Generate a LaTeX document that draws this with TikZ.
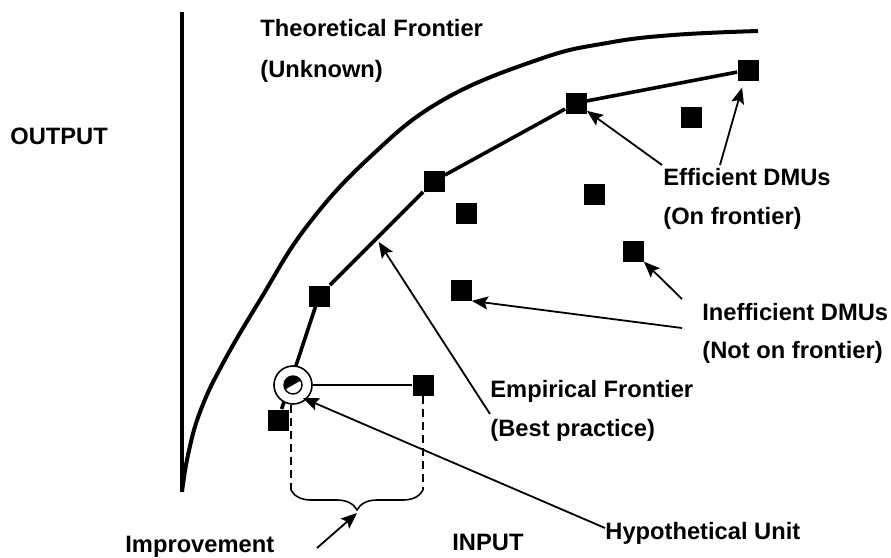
\documentclass[tikz,border=0pt]{standalone}
\usepackage{fontspec}
\setmainfont{Liberation Sans}
\usetikzlibrary{arrows.meta,decorations.pathreplacing,calc}

\tikzset{
  dmu/.style={fill=black, minimum size=10.5pt, inner sep=0pt},
  lbl/.style={font=\fontsize{11.85}{14}\selectfont\bfseries, inner sep=0pt, anchor=base west},
  pointer/.style={->, line width=0.9pt},
  guide/.style={dash pattern=on 4pt off 2.5pt, line width=0.7pt},
}

\begin{document}
\begin{tikzpicture}[x=0.5pt, y=-0.5pt, >={Stealth[length=8pt,width=6.5pt,inset=1.5pt]}]
\useasboundingbox (0,0) rectangle (891,558);

% Axis
% Theoretical frontier curve
  \draw[line width=1.6pt] (182,12) -- (182,492);
  \draw[line width=2pt] plot[smooth, tension=0.7] coordinates {(182,492) (188,455) (200,412) (222,365) (260,300) (307,226) (370,157) (443,100) (540,59) (607,43) (673,35) (758,31)};

% DMUs
  \node[dmu] (d1) at (278,420) {};
  \node[dmu] (d2) at (319,296) {};
  \node[dmu] (d3) at (434,181) {};
  \node[dmu] (d4) at (576,103) {};
  \node[dmu] (d5) at (748,70) {};
  \node[dmu] (d6) at (691,117) {};
  \node[dmu] (d7) at (466,213) {};
  \node[dmu] (d8) at (594,194) {};
  \node[dmu] (d9) at (633,251) {};
  \node[dmu] (d10) at (461,290) {};
  \node[dmu] (d11) at (423,385) {};

% Empirical frontier
  \draw[line width=1.8pt] (d1) -- (d2) -- (d3) -- (d4) -- (d5);

% Hypothetical unit
  \node[circle, draw, fill=white, line width=0.8pt, minimum size=19pt, inner sep=0pt] (hu) at (293,385) {};
  \draw[line width=0.7pt] (hu.center) circle (4.5pt);
  \fill (hu.center) -- ++(30:4.5pt) arc (30:210:4.5pt) -- cycle;
  \draw[line width=0.8pt] (hu) -- (d11);

% Improvement: guides and brace
  \coordinate (bl) at (291,490);
  \coordinate (br) at (423,490);
  \coordinate (btip) at (357,513);
  \draw[guide] (hu.south -| bl) -- (bl);
  \draw[guide] (d11.south) -- (br);
  \draw[decorate, decoration={brace, mirror, amplitude=10pt}, line width=0.8pt] (bl) -- (br);

% Labels
  \node[lbl] (theo1) at (260,36) {Theoretical Frontier};
  \node[lbl] (theo2) at (260,77) {(Unknown)};
  \node[lbl] (out) at (10,144) {OUTPUT};
  \node[lbl] (eff1) at (663,185) {Efficient DMUs};
  \node[lbl] (eff2) at (663,224) {(On frontier)};
  \node[lbl] (ineff1) at (702,320) {Inefficient DMUs};
  \node[lbl] (ineff2) at (702,358) {(Not on frontier)};
  \node[lbl] (emp1) at (490,397) {Empirical Frontier};
  \node[lbl] (emp2) at (490,436) {(Best practice)};
  \node[lbl] (hypo) at (605,539) {Hypothetical Unit};
  \node[lbl] (impr) at (125,552) {Improvement};
  \node[lbl] (inp) at (452,550) {INPUT};

% Pointers
  \coordinate (efftail1) at (662,165);
  \coordinate (efftail2) at (720,165);
  \coordinate (inefftail1) at (682,299);
  \coordinate (inefftail2) at (682,328);
  \coordinate (emptail) at (490,414);
  \coordinate (hyptail) at (605,528);
  \coordinate (imptail) at (317,548);
  \draw[pointer] (efftail1) -- (d4);
  \draw[pointer, shorten >=3.5pt] (efftail2) -- ($(d5.south)+(-4,0)$);
  \draw[pointer] (inefftail1) -- (d9);
  \draw[pointer] (inefftail2) -- (d10.south east);
  \draw[pointer, shorten >=2pt] (emptail) -- ($(d2)!0.5!(d3)$);
  \draw[pointer] (hyptail) -- ($(hu.center)+(10,13)$);
  \draw[pointer] (imptail) -- (btip);
\end{tikzpicture}
\end{document}
